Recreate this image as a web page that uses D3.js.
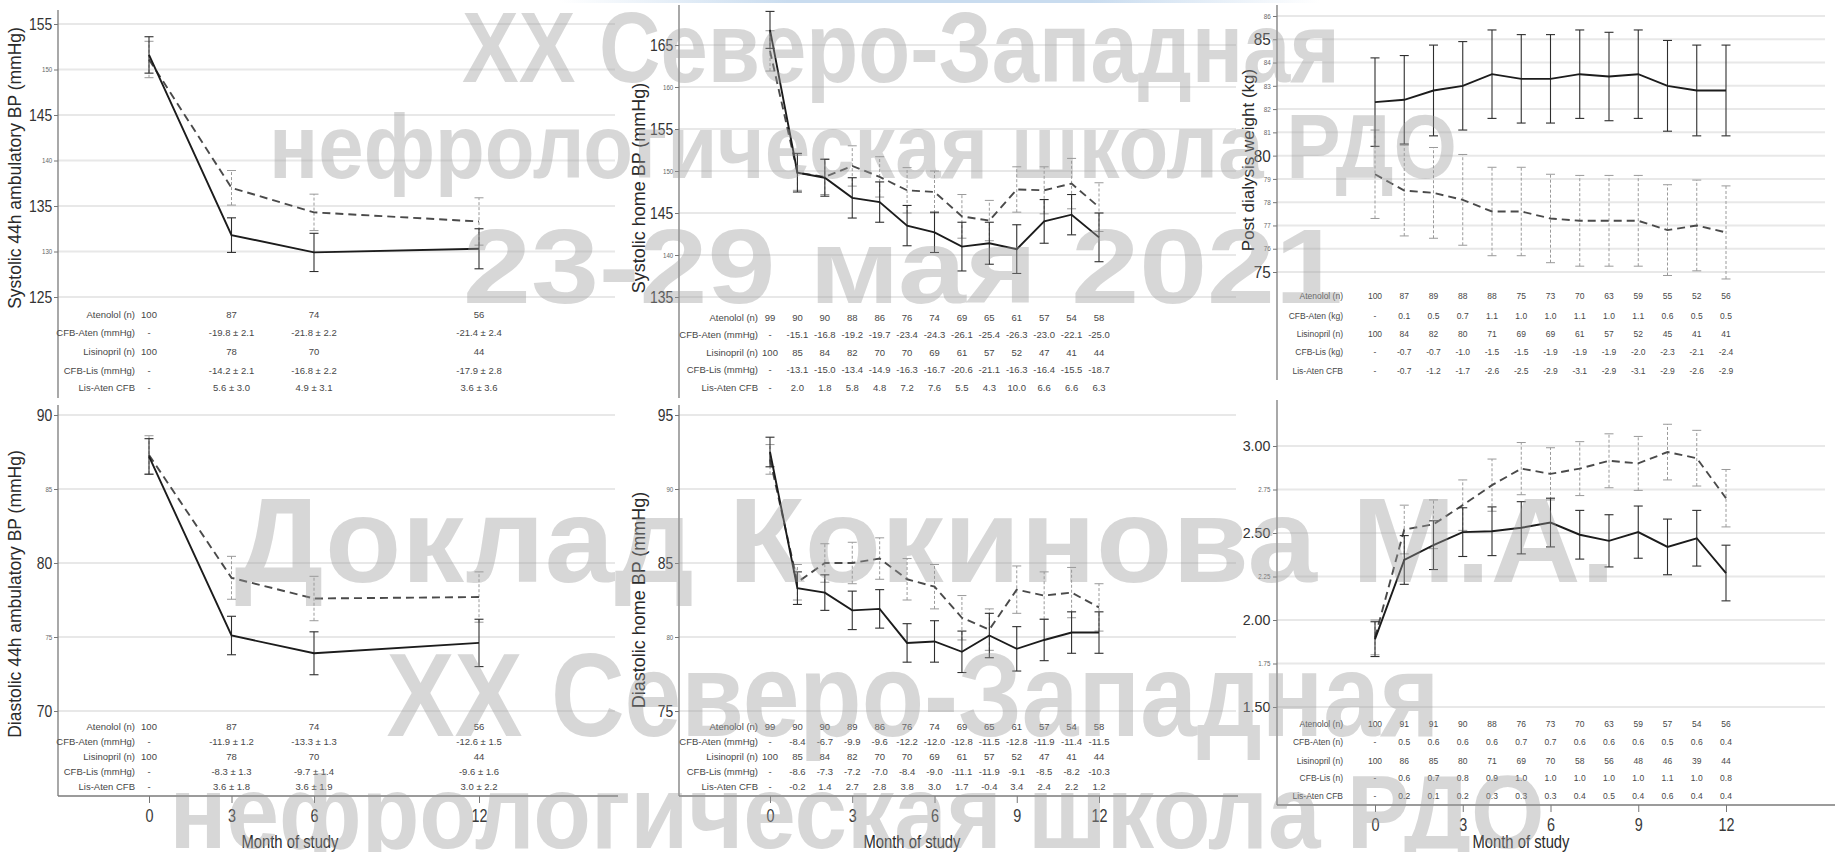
<!DOCTYPE html>
<html>
<head>
<meta charset="utf-8">
<script src="https://cdn.jsdelivr.net/npm/d3@7"></script>
<style>
  html, body { margin: 0; padding: 0; background: #fff; }
  svg { display: block; font-family: "Liberation Sans", Arial, sans-serif; }
</style>
</head>
<body>
<svg id="chart" width="1835" height="852"></svg>
<script>
// ---------------- data ----------------
const monthsAmb = [0, 3, 6, 12];
const monthsHome = [0, 1, 2, 3, 4, 5, 6, 7, 8, 9, 10, 11, 12];
const xTicksAmb = [0, 3, 6, 12];
const xTicksHome = [0, 3, 6, 9, 12];

// Systolic 44h ambulatory BP (mmHg), mean and SE
const sysAmbAten   = [151.6, 131.8, 129.9, 130.3];
const sysAmbAtenSE = [2.0, 1.9, 2.1, 2.2];
const sysAmbLis    = [151.1, 137.0, 134.3, 133.3];
const sysAmbLisSE  = [2.0, 1.9, 2.0, 2.6];
const sysAmbTicks  = [125, 130, 135, 140, 145, 150, 155];
const sysAmbBig    = [125, 135, 145, 155];

// Diastolic 44h ambulatory BP (mmHg)
const diaAmbAten   = [87.2, 75.1, 73.9, 74.6];
const diaAmbAtenSE = [1.2, 1.3, 1.45, 1.6];
const diaAmbLis    = [87.3, 79.0, 77.6, 77.7];
const diaAmbLisSE  = [1.3, 1.45, 1.5, 1.7];
const diaAmbTicks  = [70, 75, 80, 85, 90];
const diaAmbBig    = [70, 80, 90];

// Systolic home BP (mmHg)
const sysHomeAten   = [166.8, 149.8, 149.2, 146.8, 146.3, 143.5, 142.7, 141.0, 141.4, 140.7, 144.0, 144.8, 142.1];
const sysHomeAtenSE = [2.2, 2.3, 2.2, 2.4, 2.4, 2.4, 2.4, 2.9, 2.5, 2.9, 2.6, 2.4, 2.9];
const sysHomeLis    = [164.3, 149.8, 149.3, 150.6, 149.3, 147.7, 147.5, 144.6, 144.1, 147.8, 147.7, 148.5, 145.7];
const sysHomeLisSE  = [2.4, 2.1, 2.1, 2.4, 2.4, 2.7, 2.5, 2.6, 2.4, 2.7, 2.8, 3.0, 2.9];
const sysHomeTicks  = [135, 140, 145, 150, 155, 160, 165];
const sysHomeBig    = [135, 145, 155, 165];

// Diastolic home BP (mmHg)
const diaHomeAten   = [92.5, 83.3, 83.0, 81.8, 81.9, 79.6, 79.7, 79.0, 80.1, 79.2, 79.8, 80.3, 80.3];
const diaHomeAtenSE = [1.0, 1.1, 1.2, 1.3, 1.3, 1.3, 1.4, 1.4, 1.5, 1.5, 1.4, 1.4, 1.4];
const diaHomeLis    = [92.0, 83.7, 85.0, 85.0, 85.3, 83.9, 83.4, 81.3, 80.5, 83.2, 82.8, 83.0, 82.0];
const diaHomeLisSE  = [1.0, 1.2, 1.3, 1.4, 1.4, 1.4, 1.5, 1.5, 1.4, 1.6, 1.6, 1.7, 1.6];
const diaHomeTicks  = [75, 80, 85, 90, 95];
const diaHomeBig    = [75, 85, 95];

// Post dialysis weight (kg)
const weightAten   = [82.3, 82.4, 82.8, 83.0, 83.5, 83.3, 83.3, 83.5, 83.4, 83.5, 83.0, 82.8, 82.8];
const weightAtenSE = [1.9, 1.9, 1.95, 1.9, 1.9, 1.9, 1.9, 1.9, 1.9, 1.9, 1.95, 1.95, 1.95];
const weightLis    = [79.2, 78.5, 78.4, 78.1, 77.6, 77.6, 77.3, 77.2, 77.2, 77.2, 76.8, 77.0, 76.7];
const weightLisSE  = [1.9, 1.95, 1.95, 1.95, 1.9, 1.9, 1.9, 1.95, 1.95, 1.95, 1.95, 1.95, 2.0];
const weightTicks  = [75, 76, 77, 78, 79, 80, 81, 82, 83, 84, 85, 86];
const weightBig    = [75, 80, 85];

// Interdialytic measure, bottom-right panel
const idwgAten   = [1.89, 2.345, 2.43, 2.505, 2.51, 2.53, 2.56, 2.49, 2.455, 2.505, 2.42, 2.47, 2.27];
const idwgAtenSE = [0.10, 0.14, 0.14, 0.14, 0.14, 0.15, 0.14, 0.14, 0.15, 0.15, 0.16, 0.16, 0.16];
const idwgLis    = [1.90, 2.52, 2.55, 2.66, 2.775, 2.87, 2.84, 2.87, 2.915, 2.90, 2.965, 2.93, 2.70];
const idwgLisSE  = [0.10, 0.14, 0.14, 0.145, 0.15, 0.15, 0.15, 0.155, 0.155, 0.155, 0.16, 0.16, 0.165];
const idwgTicks  = [1.5, 1.75, 2.0, 2.25, 2.5, 2.75, 3.0];
const idwgBig    = [1.5, 2.0, 2.5, 3.0];

// Table row labels
const rowLabelsBP     = ["Atenolol (n)", "CFB-Aten (mmHg)", "Lisinopril (n)", "CFB-Lis (mmHg)", "Lis-Aten CFB"];
const rowLabelsWeight = ["Atenolol (n)", "CFB-Aten (kg)", "Lisinopril (n)", "CFB-Lis (kg)", "Lis-Aten CFB"];
const rowLabelsIdwg   = ["Atenolol (n)", "CFB-Aten (n)", "Lisinopril (n)", "CFB-Lis (n)", "Lis-Aten CFB"];

// Table values
const sysAmbTable = [
  ["100", "87", "74", "56"],
  ["-", "-19.8 ± 2.1", "-21.8 ± 2.2", "-21.4 ± 2.4"],
  ["100", "78", "70", "44"],
  ["-", "-14.2 ± 2.1", "-16.8 ± 2.2", "-17.9 ± 2.8"],
  ["-", "5.6 ± 3.0", "4.9 ± 3.1", "3.6 ± 3.6"]
];
const diaAmbTable = [
  ["100", "87", "74", "56"],
  ["-", "-11.9 ± 1.2", "-13.3 ± 1.3", "-12.6 ± 1.5"],
  ["100", "78", "70", "44"],
  ["-", "-8.3 ± 1.3", "-9.7 ± 1.4", "-9.6 ± 1.6"],
  ["-", "3.6 ± 1.8", "3.6 ± 1.9", "3.0 ± 2.2"]
];
const sysHomeTable = [
  ["99", "90", "90", "88", "86", "76", "74", "69", "65", "61", "57", "54", "58"],
  ["-", "-15.1", "-16.8", "-19.2", "-19.7", "-23.4", "-24.3", "-26.1", "-25.4", "-26.3", "-23.0", "-22.1", "-25.0"],
  ["100", "85", "84", "82", "70", "70", "69", "61", "57", "52", "47", "41", "44"],
  ["-", "-13.1", "-15.0", "-13.4", "-14.9", "-16.3", "-16.7", "-20.6", "-21.1", "-16.3", "-16.4", "-15.5", "-18.7"],
  ["-", "2.0", "1.8", "5.8", "4.8", "7.2", "7.6", "5.5", "4.3", "10.0", "6.6", "6.6", "6.3"]
];
const diaHomeTable = [
  ["99", "90", "90", "89", "86", "76", "74", "69", "65", "61", "57", "54", "58"],
  ["-", "-8.4", "-6.7", "-9.9", "-9.6", "-12.2", "-12.0", "-12.8", "-11.5", "-12.8", "-11.9", "-11.4", "-11.5"],
  ["100", "85", "84", "82", "70", "70", "69", "61", "57", "52", "47", "41", "44"],
  ["-", "-8.6", "-7.3", "-7.2", "-7.0", "-8.4", "-9.0", "-11.1", "-11.9", "-9.1", "-8.5", "-8.2", "-10.3"],
  ["-", "-0.2", "1.4", "2.7", "2.8", "3.8", "3.0", "1.7", "-0.4", "3.4", "2.4", "2.2", "1.2"]
];
const weightTable = [
  ["100", "87", "89", "88", "88", "75", "73", "70", "63", "59", "55", "52", "56"],
  ["-", "0.1", "0.5", "0.7", "1.1", "1.0", "1.0", "1.1", "1.0", "1.1", "0.6", "0.5", "0.5"],
  ["100", "84", "82", "80", "71", "69", "69", "61", "57", "52", "45", "41", "41"],
  ["-", "-0.7", "-0.7", "-1.0", "-1.5", "-1.5", "-1.9", "-1.9", "-1.9", "-2.0", "-2.3", "-2.1", "-2.4"],
  ["-", "-0.7", "-1.2", "-1.7", "-2.6", "-2.5", "-2.9", "-3.1", "-2.9", "-3.1", "-2.9", "-2.6", "-2.9"]
];
const idwgTable = [
  ["100", "91", "91", "90", "88", "76", "73", "70", "63", "59", "57", "54", "56"],
  ["-", "0.5", "0.6", "0.6", "0.6", "0.7", "0.7", "0.6", "0.6", "0.6", "0.5", "0.6", "0.4"],
  ["100", "86", "85", "80", "71", "69", "70", "58", "56", "48", "46", "39", "44"],
  ["-", "0.6", "0.7", "0.8", "0.9", "1.0", "1.0", "1.0", "1.0", "1.0", "1.1", "1.0", "0.8"],
  ["-", "0.2", "0.1", "0.2", "0.3", "0.3", "0.3", "0.4", "0.5", "0.4", "0.6", "0.4", "0.4"]
];

const xAxisTitle = "Month of study";
const watermarkLines = [
  "XX Северо-Западная",
  "нефрологическая школа РДО",
  "23-29 мая 2021",
  "Доклад Кокинова М.А.",
  "XX Северо-Западная",
  "нефрологическая школа РДО"
];

// ---------------- drawing ----------------
const svg = d3.select("#chart");

// thin slide header strip along the very top
const defs = svg.append("defs");
const strip = defs.append("linearGradient").attr("id", "strip").attr("x1", "0").attr("x2", "1");
strip.append("stop").attr("offset", "0").attr("stop-color", "#ffffff");
strip.append("stop").attr("offset", "0.3").attr("stop-color", "#c9dcef");
strip.append("stop").attr("offset", "0.7").attr("stop-color", "#c9dcef");
strip.append("stop").attr("offset", "1").attr("stop-color", "#ffffff");
svg.append("rect").attr("x", 560).attr("y", 0).attr("width", 760).attr("height", 3).attr("fill", "url(#strip)");

const panels = [
  { months: monthsAmb, xTicks: xTicksAmb, xRange: [149, 479], axisX: 58, gridEnd: 615,
    domain: [125, 155], range: [297, 24], axisTop: 10, axisBottom: 398,
    ticks: sysAmbTicks, big: sysAmbBig, fmt: d3.format("d"), bigSize: 17, smallSize: 7.5, sx: 0.82,
    title: "Systolic 44h ambulatory BP (mmHg)", titleX: 16, titleY: 168, titleSize: 17.5,
    aten: sysAmbAten, atenSE: sysAmbAtenSE, lis: sysAmbLis, lisSE: sysAmbLisSE,
    table: sysAmbTable, rowLabels: rowLabelsBP, labelRight: 135, rowY: [315, 333, 352, 371, 388], tSize: 9.5,
    xAxisY: null },
  { months: monthsAmb, xTicks: xTicksAmb, xRange: [149, 479], axisX: 58, gridEnd: 615,
    domain: [70, 90], range: [711, 415], axisTop: 405, axisBottom: 796,
    ticks: diaAmbTicks, big: diaAmbBig, fmt: d3.format("d"), bigSize: 17, smallSize: 7.5, sx: 0.82,
    title: "Diastolic 44h ambulatory BP (mmHg)", titleX: 16, titleY: 594, titleSize: 17.5,
    aten: diaAmbAten, atenSE: diaAmbAtenSE, lis: diaAmbLis, lisSE: diaAmbLisSE,
    table: diaAmbTable, rowLabels: rowLabelsBP, labelRight: 135, rowY: [727, 742, 757, 772, 787], tSize: 9.5,
    xAxisY: 796, xAxisEnd: 618, xTitleX: 290 },
  { months: monthsHome, xTicks: xTicksHome, xRange: [770, 1099], axisX: 679, gridEnd: 1236,
    domain: [135, 165], range: [297, 45], axisTop: 5, axisBottom: 398,
    ticks: sysHomeTicks, big: sysHomeBig, fmt: d3.format("d"), bigSize: 17, smallSize: 7.5, sx: 0.82,
    title: "Systolic home BP (mmHg)", titleX: 640, titleY: 188, titleSize: 18,
    aten: sysHomeAten, atenSE: sysHomeAtenSE, lis: sysHomeLis, lisSE: sysHomeLisSE,
    table: sysHomeTable, rowLabels: rowLabelsBP, labelRight: 758, rowY: [318, 335, 353, 370, 388], tSize: 9.5,
    xAxisY: null },
  { months: monthsHome, xTicks: xTicksHome, xRange: [770, 1099], axisX: 679, gridEnd: 1236,
    domain: [75, 95], range: [711, 415], axisTop: 405, axisBottom: 796,
    ticks: diaHomeTicks, big: diaHomeBig, fmt: d3.format("d"), bigSize: 17, smallSize: 7.5, sx: 0.82,
    title: "Diastolic home BP (mmHg)", titleX: 640, titleY: 600, titleSize: 18,
    aten: diaHomeAten, atenSE: diaHomeAtenSE, lis: diaHomeLis, lisSE: diaHomeLisSE,
    table: diaHomeTable, rowLabels: rowLabelsBP, labelRight: 758, rowY: [727, 742, 757, 772, 787], tSize: 9.5,
    xAxisY: 796, xAxisEnd: 1238, xTitleX: 912 },
  { months: monthsHome, xTicks: xTicksHome, xRange: [1375, 1726], axisX: 1277, gridEnd: 1825,
    domain: [75, 86], range: [272, 16], axisTop: 5, axisBottom: 380,
    ticks: weightTicks, big: weightBig, fmt: d3.format("d"), bigSize: 17, smallSize: 7, sx: 0.9,
    title: "Post dialysis weight (kg)", titleX: 1250, titleY: 160, titleSize: 17,
    aten: weightAten, atenSE: weightAtenSE, lis: weightLis, lisSE: weightLisSE,
    table: weightTable, rowLabels: rowLabelsWeight, labelRight: 1343, rowY: [297, 317, 335, 353, 372], tSize: 8.5,
    xAxisY: null },
  { months: monthsHome, xTicks: xTicksHome, xRange: [1375, 1726], axisX: 1277, gridEnd: 1825,
    domain: [1.5, 3.0], range: [707, 446], axisTop: 400, axisBottom: 805,
    ticks: idwgTicks, big: idwgBig, fmt: d3.format(".2f"), bigSize: 15, smallSize: 6.5, sx: 0.95,
    title: null,
    aten: idwgAten, atenSE: idwgAtenSE, lis: idwgLis, lisSE: idwgLisSE,
    table: idwgTable, rowLabels: rowLabelsIdwg, labelRight: 1343, rowY: [725, 743, 762, 779, 797], tSize: 8.5,
    xAxisY: 805, xAxisEnd: 1835, xTitleX: 1521 }
];

function drawSeries(g, p, x, y, vals, se, dashed) {
  const lineColor = dashed ? "#4a4a4a" : "#1c1c1c";
  const barColor = dashed ? "#9a9a9a" : "#2e2e2e";
  const bars = g.append("g");
  p.months.forEach((m, i) => {
    const cx = x(m), lo = y(vals[i] - se[i]), hi = y(vals[i] + se[i]);
    const bar = bars.append("g").attr("stroke", barColor).attr("stroke-width", dashed ? 1 : 1.1);
    bar.append("line").attr("x1", cx).attr("x2", cx).attr("y1", lo).attr("y2", hi)
      .attr("stroke-dasharray", dashed ? "3,2" : null);
    bar.append("line").attr("x1", cx - 4.5).attr("x2", cx + 4.5).attr("y1", lo).attr("y2", lo);
    bar.append("line").attr("x1", cx - 4.5).attr("x2", cx + 4.5).attr("y1", hi).attr("y2", hi);
  });
  const line = d3.line().x((d, i) => x(p.months[i])).y(d => y(d));
  g.append("path").datum(vals).attr("d", line).attr("fill", "none")
    .attr("stroke", lineColor).attr("stroke-width", 1.9)
    .attr("stroke-dasharray", dashed ? "8,5" : null);
}

panels.forEach(p => {
  const g = svg.append("g");
  const x = d3.scaleLinear().domain([0, 12]).range(p.xRange);
  const y = d3.scaleLinear().domain(p.domain).range(p.range);

  // horizontal gridlines
  g.append("g").selectAll("line").data(p.ticks).join("line")
    .attr("x1", p.axisX).attr("x2", p.gridEnd)
    .attr("y1", d => y(d)).attr("y2", d => y(d))
    .attr("stroke", "#e8e8e8").attr("stroke-width", 2);

  // y axis with mixed-size tick labels
  const ay = g.append("g").attr("transform", `translate(${p.axisX},0)`)
    .call(d3.axisLeft(y).tickValues(p.ticks).tickSize(4).tickPadding(3).tickFormat(p.fmt));
  ay.select(".domain").remove();
  ay.selectAll(".tick line").attr("stroke", "#777");
  ay.selectAll(".tick text")
    .attr("font-family", "Liberation Sans, Arial, sans-serif")
    .attr("font-size", d => p.big.includes(d) ? p.bigSize : p.smallSize)
    .attr("fill", d => p.big.includes(d) ? "#333" : "#666")
    .attr("transform", `scale(${p.sx},1)`);
  g.append("line").attr("x1", p.axisX).attr("x2", p.axisX)
    .attr("y1", p.axisTop).attr("y2", p.axisBottom)
    .attr("stroke", "#7a7a7a").attr("stroke-width", 1.3);

  // y axis title
  if (p.title) {
    g.append("text")
      .attr("transform", `translate(${p.titleX},${p.titleY}) rotate(-90)`)
      .attr("text-anchor", "middle").attr("dominant-baseline", "middle")
      .attr("font-size", p.titleSize).attr("fill", "#2a2a2a")
      .text(p.title);
  }

  // series: lisinopril dashed below, atenolol solid on top
  drawSeries(g, p, x, y, p.lis, p.lisSE, true);
  drawSeries(g, p, x, y, p.aten, p.atenSE, false);

  // table under the curves
  const tg = g.append("g").attr("font-size", p.tSize).attr("fill", "#474747");
  p.rowLabels.forEach((lab, r) => {
    tg.append("text").attr("x", p.labelRight).attr("y", p.rowY[r])
      .attr("text-anchor", "end").attr("dominant-baseline", "middle").text(lab);
    p.table[r].forEach((v, c) => {
      tg.append("text").attr("x", x(p.months[c])).attr("y", p.rowY[r])
        .attr("text-anchor", "middle").attr("dominant-baseline", "middle").text(v);
    });
  });

  // bottom x axis
  if (p.xAxisY !== null) {
    const ax = g.append("g").attr("transform", `translate(0,${p.xAxisY})`)
      .call(d3.axisBottom(x).tickValues(p.xTicks).tickSize(7).tickPadding(6).tickFormat(d3.format("d")));
    ax.select(".domain").remove();
    ax.selectAll(".tick line").attr("stroke", "#777");
    ax.selectAll(".tick text").attr("font-size", 18).attr("fill", "#3a3a3a")
      .attr("font-family", "Liberation Sans, Arial, sans-serif")
      .attr("transform", "scale(0.8,1)");
    g.append("line").attr("x1", p.axisX).attr("x2", p.xAxisEnd)
      .attr("y1", p.xAxisY).attr("y2", p.xAxisY)
      .attr("stroke", "#7a7a7a").attr("stroke-width", 1.3);
    g.append("text").attr("x", p.xTitleX).attr("y", 848)
      .attr("text-anchor", "middle").attr("font-size", 18).attr("fill", "#2a2a2a")
      .attr("textLength", 97).attr("lengthAdjust", "spacingAndGlyphs")
      .text(xAxisTitle);
  }
});

// overlaid event banner text
const wmPos = [
  { x: 901, y: 82,  size: 100, len: 878 },
  { x: 863, y: 178, size: 90,  len: 1188 },
  { x: 903, y: 303, size: 105, len: 880 },
  { x: 925, y: 582, size: 120, len: 1381 },
  { x: 913, y: 736, size: 118, len: 1053 },
  { x: 857, y: 848, size: 104, len: 1375 }
];
const wm = svg.append("g").attr("fill", "#9a9a9a").attr("fill-opacity", 0.4)
  .attr("font-weight", "bold").attr("font-family", "Liberation Sans, Arial, sans-serif");
watermarkLines.forEach((t, i) => {
  wm.append("text").attr("x", wmPos[i].x).attr("y", wmPos[i].y)
    .attr("text-anchor", "middle").attr("font-size", wmPos[i].size)
    .attr("textLength", wmPos[i].len).attr("lengthAdjust", "spacingAndGlyphs")
    .text(t);
});
</script>
</body>
</html>
